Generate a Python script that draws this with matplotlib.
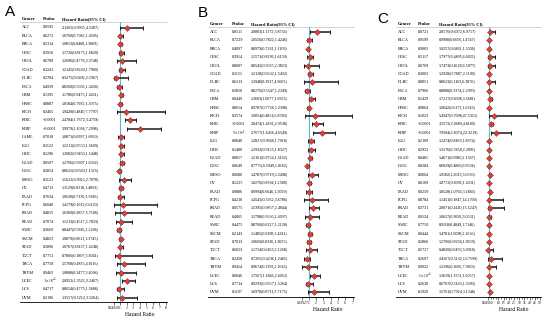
import matplotlib.pyplot as plt
import numpy as np

plt.rcParams["mathtext.fontset"] = "stix"

# cancer types
cancers_a = ["ACC", "BLCA", "BRCA", "CESC", "CHOL", "COAD", "DLBC", "ESCA", "GBM", "HNSC",
             "KICH", "KIRC", "KIRP", "LAML", "LGG", "LIHC", "LUAD", "LUSC", "MESO", "OV",
             "PAAD", "PCPG", "PRAD", "READ", "SARC", "SKCM", "STAD", "TGCT", "THCA", "THYM",
             "UCEC", "UCS", "UVM"]
cancers_bc = [c for c in cancers_a if c != "LAML"]

# panel A
p_a = ["0.0595", "0.6272", "0.5314", "0.3910", "0.6789", "0.3241", "0.2784", "0.4939", "0.1395", "0.8887",
       "0.3465", "<0.0001", "<0.0001", "0.7010", "0.1122", "0.1296", "0.0507", "0.2854", "0.1123", "0.4713",
       "0.7634", "0.6040", "0.4815", "0.7874", "0.3669", "0.4823", "0.5896", "0.7751", "0.7758", "0.9463",
       r"$3\times10^{-4}$", "0.4717", "0.2196"]
hr_a = [2.1265, 1.0760, 1.0813, 1.1726, 1.2696, 1.2145, 0.3275, 0.8260, 1.1786, 1.0184,
        1.9428, 2.4784, 3.9979, 1.0871, 1.2211, 1.2082, 1.2766, 0.8625, 1.5622, 1.1129,
        1.0630, 1.4179, 1.6360, 1.1213, 0.8447, 1.0879, 1.0767, 0.7866, 1.5768, 1.0888,
        2.0952, 0.8654, 1.3557]
lo_a = [0.9955, 0.7982, 0.8468, 0.8175, 0.4776, 0.8240, 0.0492, 0.5056, 0.9475, 0.7932,
        0.4840, 1.7672, 2.1094, 0.6997, 0.9553, 0.9450, 0.9997, 0.6569, 0.9012, 0.8318,
        0.7130, 0.1012, 0.2857, 0.4517, 0.5846, 0.8611, 0.8137, 0.1807, 0.4835, 0.3477,
        1.3521, 0.4775, 0.5212]
hi_a = [4.5387, 1.4505, 1.3809, 1.6820, 3.3748, 1.7900, 2.1967, 1.3494, 1.4661, 1.3075,
        7.7797, 3.4759, 7.2996, 1.6890, 1.5609, 1.5448, 1.6302, 1.1325, 2.7078, 1.4891,
        1.5846, 6.6120, 5.7106, 2.7833, 1.2206, 1.3745, 1.4248, 5.8041, 4.8116, 3.4098,
        3.2467, 1.5686, 3.5264]

# panel B
p_b = ["0.0511", "0.7229", "0.4097", "0.3914", "0.8007", "0.1151", "0.6213", "0.3850", "0.0449", "0.8614",
       "0.3574", "<0.0001", r"$5\times10^{-5}$", "0.0840", "0.1480", "0.0817", "0.0649", "0.0680", "0.5225",
       "0.9886", "0.4210", "0.0575", "0.4065", "0.4475", "0.2143", "0.7013", "0.6023", "0.2458", "0.9414",
       "0.0046", "0.7714", "0.1197"]
hr_b = [2.0803, 1.0556, 0.8979, 1.1571, 0.8545, 1.2128, 1.3948, 0.8276, 1.3603, 0.9787,
        1.9054, 2.0474, 2.7677, 1.2827, 1.2932, 1.2161, 0.7775, 1.4787, 1.0276, 0.9994,
        1.4545, 1.5395, 1.1798, 0.8760, 1.1485, 1.0669, 1.1724, 0.7265, 0.9674, 1.7567,
        0.9293, 1.6978]
lo_b = [1.1172, 0.7822, 0.7261, 0.8296, 0.3065, 0.9532, 0.3917, 0.5547, 1.0077, 0.7726,
        0.4854, 1.4191, 1.6456, 0.9668, 0.9125, 0.9754, 0.5949, 0.9719, 0.8394, 0.6646,
        0.3952, 0.9857, 0.5636, 0.6327, 0.9198, 0.8336, 0.6463, 0.4236, 0.13927, 1.1846,
        0.5657, 0.8711]
hi_b = [3.8736, 1.4246, 1.1103, 1.6139, 2.3823, 1.5432, 4.9665, 1.2349, 1.8363, 1.2398,
        6.8780, 2.9538, 4.6549, 1.7018, 1.8327, 1.5162, 1.0162, 2.2498, 1.2580, 1.5029,
        3.6786, 2.4044, 2.4697, 1.2128, 1.4341, 1.3655, 2.1268, 1.2461, 2.1643, 2.6052,
        1.5264, 3.7175]

# panel C
p_c = ["0.0721", "0.9599", "0.9003", "0.5117", "0.6769", "0.3003", "0.8851", "0.7966", "0.1429", "0.9864",
       "0.1023", "<0.0001", "<0.0001", "0.2109", "0.2952", "0.0481", "0.0284", "0.0064", "0.6109", "0.0259",
       "0.8784", "0.3731", "0.9124", "0.7750", "0.0444", "0.2866", "0.5727", "0.2607", "0.9022",
       r"$1\times10^{-4}$", "0.2630", "0.1920"]
hr_c = [2.0576, 0.9908, 1.0257, 1.7977, 1.7473, 1.2928, 0.8623, 0.8808, 1.7217, 1.0042,
        5.4947, 3.1572, 7.9584, 1.2474, 1.3176, 1.4671, 0.6829, 1.9182, 1.0772, 1.8528,
        1.1451, 2.0871, 1.0617, 0.9118, 1.4781, 1.2700, 0.4820, 2.4567, 1.1296, 1.3619,
        0.6767, 1.5761]
lo_c = [0.6072, 0.6656, 0.6861, 0.4895, 0.4628, 0.7887, 0.1163, 0.3374, 0.8308, 0.6171,
        0.7098, 2.0689, 2.8374, 0.8469, 0.7858, 0.9980, 0.4860, 1.2013, 0.8096, 1.0766,
        0.1847, 0.4140, 0.3692, 0.4849, 1.0098, 0.8204, 0.0456, 0.5132, 0.1606, 1.1551,
        0.3420, 0.7924]
hi_c = [6.9717, 1.4747, 1.5336, 6.6021, 6.5977, 2.1190, 6.3876, 2.2993, 3.5681, 1.6343,
        47.5351, 4.8180, 22.3219, 1.8374, 2.2091, 2.1567, 0.9594, 3.0630, 1.4331, 3.1886,
        14.1700, 15.5247, 3.0531, 1.7146, 2.1636, 1.9659, 5.0918, 13.7599, 7.9469, 1.6057,
        1.3390, 3.1348]

ticks_a = [min(lo_a)] + list(range(1, 9))
ticks_b = [min(lo_b)] + list(range(1, 8))
ticks_c = [min(lo_c)] + list(range(10, 55, 5))

W, H = 550, 320
serif = "Liberation Serif"

fig = plt.figure(figsize=(5.5, 3.2), dpi=100)
bg = fig.add_axes([0, 0, 1, 1])
bg.set_xlim(0, W)
bg.set_ylim(H, 0)
bg.axis("off")


def rect(x0, y0, x1, y1):
    return [x0 / W, 1 - y1 / H, (x1 - x0) / W, (y1 - y0) / H]


def panel(letter, lx, ly, names, pv, hr, lo, hi, cols, hdr_y, y0, step, ybot,
          ax_x0, ax_x1, xlim, ticks, minor=None):
    n = len(names)
    ys = y0 + step * np.arange(n)
    xn, xp, xh = cols
    bg.text(lx, ly, letter, fontsize=11, family="Liberation Sans", ha="center", va="center")
    for x, t in zip(cols, ["Cancer", "Pvalue", "Hazard Ratio(95% CI)"]):
        bg.text(x, hdr_y, t, fontsize=3.2, family=serif, fontweight="bold", va="center")
    bg.plot([xn - 2, ax_x1 + 1], [hdr_y + 3, hdr_y + 3], color="#b0b0b0", lw=0.4)
    bg.plot([xn - 2, ax_x1 + 1], [ybot, ybot], color="black", lw=0.6)
    for i in range(n):
        bg.text(xn, ys[i], names[i], fontsize=3, family=serif, va="center")
        bg.text(xp, ys[i], pv[i], fontsize=3 if "$" not in pv[i] else 2.7,
                family=serif, va="center")
        bg.text(xh, ys[i], "%.4f(%.4f,%.4f)" % (hr[i], lo[i], hi[i]),
                fontsize=3, family=serif, va="center")

    ax = fig.add_axes(rect(ax_x0, hdr_y + 3, ax_x1, ybot))
    ax.patch.set_visible(False)
    ax.set_xlim(*xlim)
    ax.set_ylim(ybot, hdr_y + 3)
    ax.axvline(1, color="#5bb8cc", lw=0.8, zorder=1)
    # confidence intervals with small end caps
    for i in range(n):
        ax.plot([lo[i], hi[i]], [ys[i], ys[i]], color="#1a1a1a", lw=1.1,
                solid_capstyle="butt", zorder=2, clip_on=False)
    ax.plot(lo, ys, "|", color="#1a1a1a", markersize=2.2, mew=0.7, zorder=2, clip_on=False)
    ax.plot(hi, ys, "|", color="#1a1a1a", markersize=2.2, mew=0.7, zorder=2, clip_on=False)
    ax.plot(hr, ys, "D", color="#d2463c", markeredgecolor="#8b1a1a",
            markeredgewidth=0.3, markersize=3, zorder=3, clip_on=False)
    for s in ["top", "right", "left"]:
        ax.spines[s].set_visible(False)
    ax.spines["bottom"].set_linewidth(0.6)
    ax.set_yticks([])
    ax.set_xticks(ticks)
    ax.set_xticklabels(["%.5f" % ticks[0]] + [str(t) for t in ticks[1:]],
                       fontsize=2.6, family=serif)
    if minor is not None:
        ax.set_xticks(minor, minor=True)
        ax.tick_params(axis="x", which="minor", length=1.5, width=0.4)
    ax.tick_params(axis="x", length=2, width=0.4, pad=1)
    ax.set_xlabel("Hazard Ratio", fontsize=4, family=serif, labelpad=1)
    return ax


panel("A", 10, 12.5, cancers_a, p_a, hr_a, lo_a, hi_a, (22, 43, 62), 19, 27.5, 8.45, 302,
      113.7, 166, (min(lo_a), 8), ticks_a)
panel("B", 203, 13, cancers_bc, p_b, hr_b, lo_b, hi_b, (210, 232, 251), 24, 32, 8.4, 297,
      302.4, 352.5, (min(lo_b), 7), ticks_b)
panel("C", 383, 19, cancers_bc, p_c, hr_c, lo_c, hi_c, (398, 418, 439), 24, 32, 8.4, 297,
      488, 540, (min(lo_c), 50), ticks_c, minor=np.arange(2.5, 50, 2.5))

fig.savefig("out.png", dpi=100)
